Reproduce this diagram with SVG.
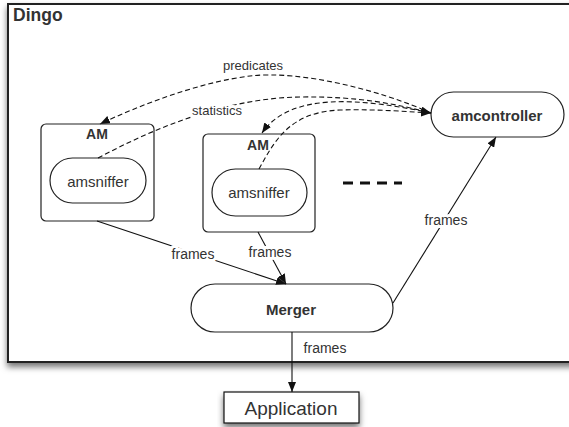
<svg xmlns="http://www.w3.org/2000/svg" width="569" height="427" viewBox="0 0 569 427">
<defs>
<marker id="arr" viewBox="0 0 10 8" refX="10" refY="4" markerWidth="10" markerHeight="8" markerUnits="userSpaceOnUse" orient="auto">
<path d="M0,0 L10,4 L0,8 Z" fill="#111"/>
</marker>
<filter id="sh" x="-5%" y="-5%" width="115%" height="120%">
<feDropShadow dx="0" dy="4" stdDeviation="3" flood-color="#000" flood-opacity="0.55"/>
</filter>
</defs>
<style>
text{font-family:"Liberation Sans",Arial,sans-serif;fill:#333}
.b{font-weight:bold}
.box{fill:#fff;stroke:#222;stroke-width:1.2}
.c{fill:none;stroke:#111;stroke-width:1.1}
.d{fill:none;stroke:#111;stroke-width:1.1;stroke-dasharray:5,3}
.lbl{paint-order:stroke;stroke:#fff;stroke-width:6;stroke-linejoin:round}
</style>
<g id="dingo">
<rect x="8" y="4" width="580" height="358" fill="#fff" stroke="#222" stroke-width="2" filter="url(#sh)"/>
<text x="13" y="21" font-size="17.5" class="b">Dingo</text>
</g>
<g id="am1">
<rect class="box" x="41" y="124" width="113" height="97" rx="5"/>
<text x="97" y="139" font-size="14" class="b" text-anchor="middle">AM</text>
</g>
<g id="amsniffer1">
<rect class="box" x="50" y="158" width="96" height="45" rx="22.5"/>
<text x="98" y="187" font-size="15" text-anchor="middle">amsniffer</text>
</g>
<g id="am2">
<rect class="box" x="203" y="134" width="112" height="98" rx="5"/>
<text x="258" y="150" font-size="14" class="b" text-anchor="middle">AM</text>
</g>
<g id="amsniffer2">
<rect class="box" x="212" y="169" width="95" height="47" rx="23.5"/>
<text x="259" y="198" font-size="15" text-anchor="middle">amsniffer</text>
</g>
<g id="amcontroller">
<rect class="box" x="431" y="92" width="133" height="45" rx="22.5"/>
<text x="497" y="121" font-size="15" class="b" text-anchor="middle">amcontroller</text>
</g>
<g id="merger">
<rect class="box" x="191" y="284" width="202" height="48" rx="24"/>
<text x="291" y="315" font-size="15" class="b" text-anchor="middle">Merger</text>
</g>
<g id="application">
<rect x="224" y="392" width="135" height="31" fill="#fff" stroke="#111" stroke-width="1.2" filter="url(#sh)"/>
<text x="291" y="415" font-size="19" text-anchor="middle">Application</text>
</g>
<g id="ellipsis">
<line x1="343" y1="183" x2="402" y2="183" stroke="#111" stroke-width="3" stroke-dasharray="10,7"/>
</g>
<g id="connectors">
<path class="d" d="M431,113 C380,90 300,70 250,76 C200,82 140,105 100,124" marker-end="url(#arr)"/>
<path class="d" d="M98,158 C160,125 230,98 300,97 C360,96 400,105 431,113" marker-end="url(#arr)"/>
<path class="d" d="M431,113 C360,98 290,92 262,133" marker-end="url(#arr)"/>
<path class="d" d="M259,169 C275,140 290,112 340,110 C380,109 410,112 431,113" marker-end="url(#arr)"/>
<path class="c" d="M97,221 L286,284" marker-end="url(#arr)"/>
<path class="c" d="M258,232 L286,284" marker-end="url(#arr)"/>
<path class="c" d="M393,303 L496,137" marker-end="url(#arr)"/>
<path class="c" d="M292,332 L292,392" marker-end="url(#arr)"/>
<text x="253" y="70" font-size="13" text-anchor="middle">predicates</text>
<text x="217" y="115" font-size="13" text-anchor="middle" class="lbl">statistics</text>
<text x="193" y="259" font-size="14" text-anchor="middle" class="lbl">frames</text>
<text x="270" y="257" font-size="14" text-anchor="middle" class="lbl">frames</text>
<text x="446" y="225" font-size="14" text-anchor="middle" class="lbl">frames</text>
<text x="325" y="353" font-size="14" text-anchor="middle">frames</text>
</g>
</svg>
